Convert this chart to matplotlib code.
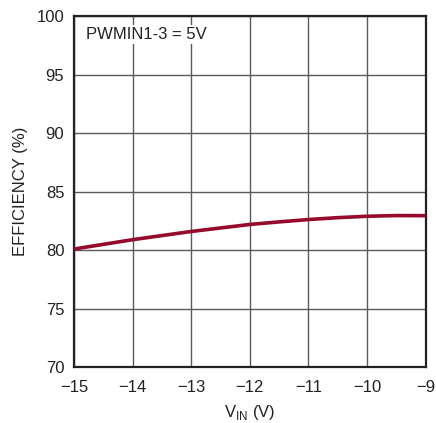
import matplotlib
matplotlib.use("Agg")
import matplotlib.pyplot as plt

plt.rcParams['font.family'] = ['Liberation Sans', 'DejaVu Sans']

vin = [-15, -14.5, -14, -13.5, -13, -12.5, -12, -11.5, -11, -10.5, -10, -9.5, -9]
eff = [80.1, 80.5, 80.9, 81.25, 81.6, 81.9, 82.2, 82.42, 82.62, 82.78, 82.9, 82.96, 82.95]

xticks = [-15, -14, -13, -12, -11, -10, -9]
xticklabels = ['\u221215', '\u221214', '\u221213', '\u221212', '\u221211', '\u221210', '\u22129']
yticks = [70, 75, 80, 85, 90, 95, 100]

fig = plt.figure(figsize=(4.36, 4.23), dpi=100)
ax = fig.add_axes([0.1697, 0.1317, 0.8063, 0.8303])
ax.plot(vin, eff, color='#960a2c', lw=2.6, solid_capstyle='butt', zorder=3)
ax.set_xlim(-15, -9)
ax.set_ylim(70, 100)
ax.set_xticks(xticks)
ax.set_xticklabels(xticklabels)
ax.set_yticks(yticks)
ax.grid(True, color='#5a5a5a', lw=1.0)
ax.set_axisbelow(True)
for s in ax.spines.values():
    s.set_linewidth(1.6)
    s.set_color('#222222')
ax.tick_params(length=0, labelsize=12, colors='#222222')
ax.tick_params(axis='x', pad=9)
ax.tick_params(axis='y', pad=7)
ax.set_xlabel('V$_{\\mathregular{IN}}$ (V)', fontsize=12, color='#222222', labelpad=6)
ax.set_ylabel('EFFICIENCY (%)', fontsize=12, color='#222222', labelpad=6)
ax.text(0.035, 0.968, 'PWMIN1-3 = 5V', transform=ax.transAxes, fontsize=12,
        color='#222222', va='top', ha='left',
        bbox=dict(facecolor='white', edgecolor='none', pad=1.5), zorder=4)
fig.savefig('out.png', dpi=100)
